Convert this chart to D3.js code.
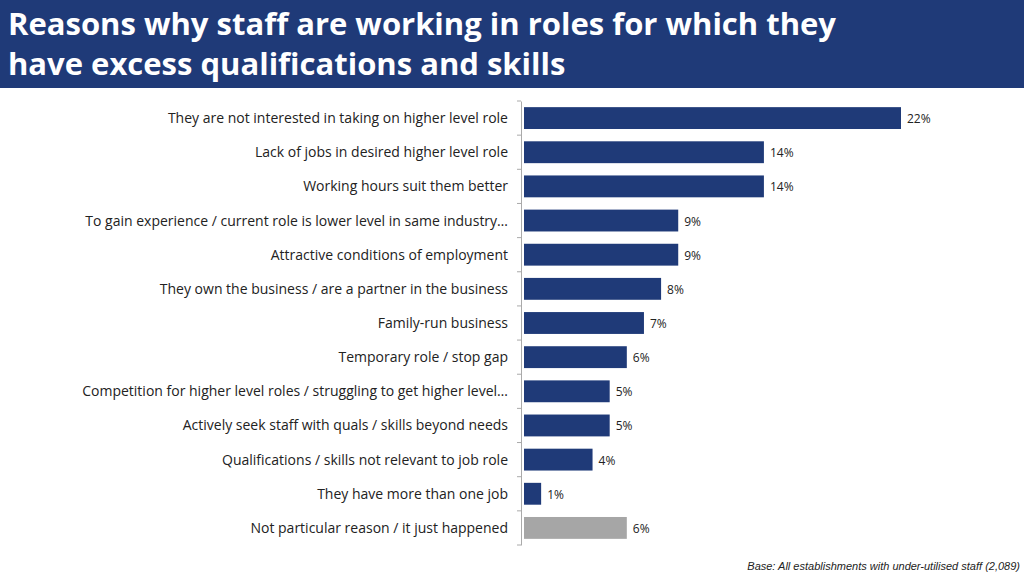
<!DOCTYPE html><html><head><meta charset="utf-8">
<script src="https://cdn.jsdelivr.net/npm/d3@7"></script>
<style>body{margin:0;background:#fff}svg{display:block}</style></head><body>
<svg id="c" width="1024" height="576"></svg>
<script>
const categories=["They are not interested in taking on higher level role","Lack of jobs in desired higher level role","Working hours suit them better","To gain experience / current role is lower level in same industry…","Attractive conditions of employment","They own the business / are a partner in the business","Family-run business","Temporary role / stop gap","Competition for higher level roles / struggling to get higher level…","Actively seek staff with quals / skills beyond needs","Qualifications / skills not relevant to job role","They have more than one job","Not particular reason / it just happened"];
const values=[22,14,14,9,9,8,7,6,5,5,4,1,6];
const titleLines=["Reasons why staff are working in roles for which they","have excess qualifications and skills"];
const svg=d3.select("#c");
svg.append("rect").attr("x",0).attr("y",0).attr("width",1024).attr("height",88).attr("fill","#1f3a78");
svg.selectAll(".t").data(titleLines).enter().append("text").attr("x",8).attr("y",(d,i)=>35+i*40)
 .attr("fill","#fff").attr("font-family","Open Sans").attr("font-weight","bold").attr("font-size",31).text(d=>d);
const x=d3.scaleLinear().domain([0,22]).range([524,901]);
const y=d3.scaleBand().domain(categories).range([101,545]).paddingInner(0.36).paddingOuter(0.18);
svg.append("g").attr("transform","translate(521,0)").call(d3.axisLeft(d3.scaleBand().domain(categories).range([101,545])).tickFormat("").tickSize(0))
 .call(g=>g.select(".domain").attr("stroke","#aaa"));
const yb=d3.scaleBand().domain(categories).range([101,545]);
svg.selectAll(".tk").data(categories.concat(["end"])).enter().append("line")
 .attr("x1",517).attr("x2",521).attr("y1",(d,i)=>101+i*yb.step()).attr("y2",(d,i)=>101+i*yb.step()).attr("stroke","#aaa");
svg.selectAll(".b").data(categories).enter().append("rect").attr("x",x(0)).attr("y",d=>y(d))
 .attr("width",(d,i)=>x(values[i])-x(0)).attr("height",y.bandwidth()).attr("fill",(d,i)=>i==12?"#a6a6a6":"#1f3a78");
svg.selectAll(".l").data(categories).enter().append("text").attr("x",508).attr("y",d=>y(d)+y.bandwidth()/2+5)
 .attr("text-anchor","end").attr("font-family","Open Sans").attr("font-size",14).attr("fill","#222").text(d=>d);
svg.selectAll(".v").data(categories).enter().append("text").attr("x",(d,i)=>x(values[i])+6).attr("y",d=>y(d)+y.bandwidth()/2+5)
 .attr("font-family","Open Sans").attr("font-size",12).attr("fill","#222").text((d,i)=>values[i]+"%");
svg.append("text").attr("x",1020).attr("y",570).attr("text-anchor","end").attr("font-family","Liberation Sans").attr("font-style","italic").attr("font-size",11).attr("fill","#222").text("Base: All establishments with under-utilised staff (2,089)");
</script></body></html>
